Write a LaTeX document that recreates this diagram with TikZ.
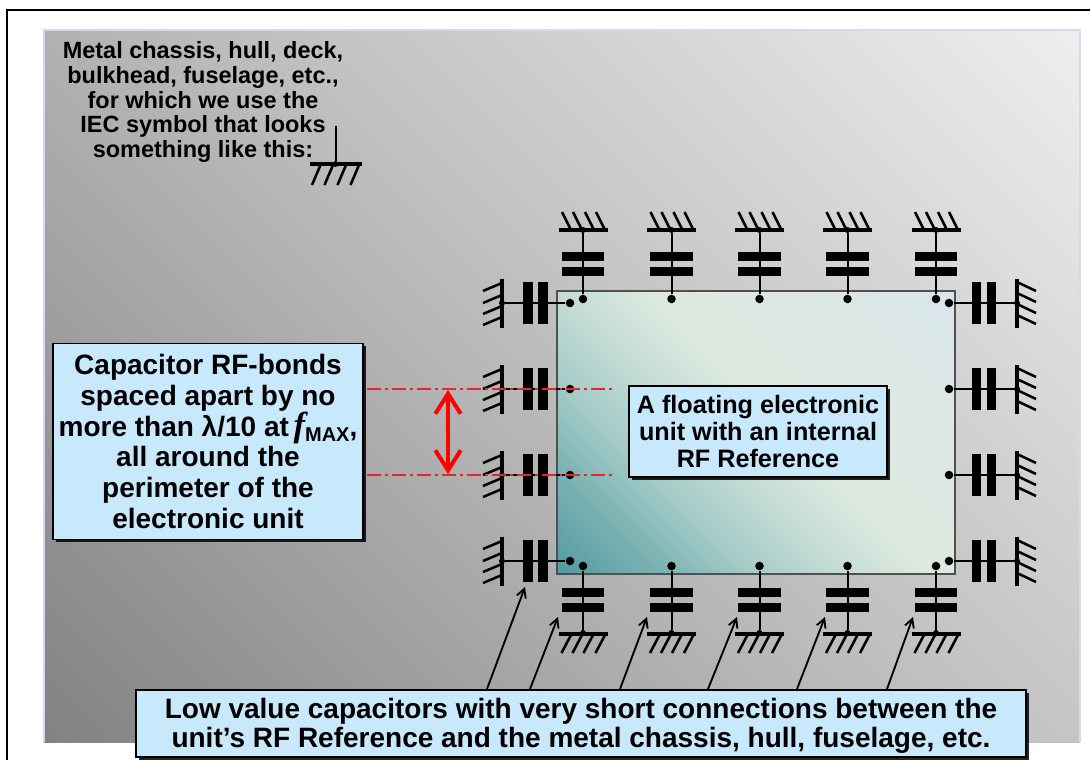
\documentclass[tikz,border=0pt]{standalone}
\usepackage{xcolor}
\usepackage{fontspec}
\usetikzlibrary{arrows.meta, shadows}
\setmainfont{Liberation Sans}
\newfontfamily\fserif{Liberation Serif}
\definecolor{boxblue}{HTML}{C8E8FB}
\definecolor{panelrim}{HTML}{D9D6EE}
\definecolor{bondred}{HTML}{E8252B}
\definecolor{unitrim}{HTML}{505050}
\definecolor{backa}{HTML}{828282}
\definecolor{backb}{HTML}{BCBCBC}
\definecolor{backc}{HTML}{EEEEF0}
\definecolor{unita}{HTML}{549AA0}
\definecolor{unitb}{HTML}{79B1B2}
\definecolor{unitc}{HTML}{A8CDC8}
\definecolor{unitd}{HTML}{C4DCD5}
\definecolor{unite}{HTML}{DDE9DF}
\definecolor{unitf}{HTML}{DDE8E4}
\definecolor{unitg}{HTML}{D9E6EA}
\pgfdeclarehorizontalshading{chassisshade}{100bp}{color(0bp)=(backa); color(14.6bp)=(backa);
  color(50bp)=(backb); color(85.4bp)=(backc); color(100bp)=(backc)}
\pgfdeclarehorizontalshading{unitshade}{100bp}{color(0bp)=(unita); color(14.6bp)=(unita);
  color(25.2bp)=(unitb); color(35.8bp)=(unitc); color(44.3bp)=(unitd); color(53.5bp)=(unite);
  color(67.7bp)=(unitf); color(85.4bp)=(unitg); color(100bp)=(unitg)}
\tikzset{
  wire/.style={line width=1.5pt},
  earth/.style={line width=2.8pt},
  hatch/.style={line width=1.9pt},
  dotnode/.style={circle, fill=black, inner sep=0pt, minimum size=6.4pt},
  earthdot/.style={circle, fill=black, inner sep=0pt, minimum size=4.5pt},
  platewide/.style={fill=black, inner sep=0pt, minimum width=32.2pt, minimum height=6.8pt},
  platetall/.style={fill=black, inner sep=0pt, minimum width=6.8pt, minimum height=31.5pt},
  notebox/.style={draw=black, line width=1.3pt, fill=boxblue, inner sep=0pt, align=center,
    font=\bfseries, drop shadow={shadow xshift=2.2pt, shadow yshift=-2.2pt, fill=black, opacity=0.85}},
  bondline/.style={bondred, line width=1.2pt, dash pattern=on 10.5pt off 3pt on 2.2pt off 3pt},
}
\begin{document}
\begin{tikzpicture}[x=0.75pt, y=-0.75pt, >={Straight Barb[length=6.5pt, width=7pt]}]
  \useasboundingbox (0,0) rectangle (1090,760);
  \fill[white] (0,0) rectangle (1090,760);

  % Chassis
  \shade[shading=chassisshade, shading angle=45] (44,30) rectangle (1080,742);
  \draw[panelrim, line width=0.8pt] (44,742) -- (44,30) -- (1080,30) -- (1080,742);
  \draw[line width=1.5pt] (7,760) -- (7,10) -- (1090,10);

  % Electronic unit
  \shade[shading=unitshade, shading angle=45] (557,291) rectangle (955,574);
  \draw[unitrim, line width=1pt] (557,291) rectangle (955,574);

  % Symbol legend
  \node[font=\bfseries\fontsize{17.6}{18.4}\selectfont, align=center] (legend) at (203,102)
    {Metal chassis, hull, deck,\\ bulkhead, fuselage, etc.,\\ for which we use the\\
     IEC symbol that looks\\ something like this:};
  \coordinate (legendtop) at (335.5,126);
  \node[earthdot] (legendearth) at (335.5,164) {};
  \draw[wire] (legendtop) -- (legendearth);
  \draw[earth] (310,164) -- (362,164);
  \foreach \h in {320.5,333,346,359} {
    \draw[hatch] (\h,165) -- ++(-8.5,20);
  }

  % Top row
  \foreach \i/\x in {1/583,2/671.5,3/759.5,4/847.5,5/936} {
    \node[dotnode] (topdot\i) at (\x,299) {};
    \node[platewide] (topa\i) at (\x,271.5) {};
    \node[platewide] (topb\i) at (\x,256.5) {};
    \node[earthdot] (topearth\i) at (\x,230) {};
    \draw[wire] (topdot\i) -- (topearth\i);
    \draw[earth] (\x-24.5,230) -- (\x+24.5,230);
    \foreach \h in {-21,-10,2,13} {
      \draw[hatch] (\x+\h,212) -- ++(9,18);
    }
  }

  % Bottom row
  \foreach \i/\x in {1/583,2/671.5,3/759.5,4/847.5,5/936} {
    \node[dotnode] (botdot\i) at (\x,566) {};
    \node[platewide] (bota\i) at (\x,592.5) {};
    \node[platewide] (botb\i) at (\x,607.5) {};
    \node[earthdot] (botearth\i) at (\x,633) {};
    \draw[wire] (botdot\i) -- (botearth\i);
    \draw[earth] (\x-24.5,634) -- (\x+24.5,634);
    \foreach \h in {-12,-1,10,22} {
      \draw[hatch] (\x+\h,635) -- ++(-9.5,18);
    }
  }

  % Left and right columns
  \foreach \i/\y in {1/303,2/389,3/475,4/561} {
    \node[dotnode] (leftdot\i) at (570,\y) {};
    \node[platetall] (lefta\i) at (543,\y) {};
    \node[platetall] (leftb\i) at (528,\y) {};
    \node[earthdot] (leftearth\i) at (502,\y) {};
    \draw[wire] (leftdot\i) -- (leftearth\i);
    \draw[earth] (502,\y-24.5) -- (502,\y+24.5);
    \foreach \h in {-20,-8,3,14} {
      \draw[hatch] (502,\y+\h) -- ++(-19,8);
    }
    \node[dotnode] (rightdot\i) at (949,\y) {};
    \node[platetall] (righta\i) at (976.5,\y) {};
    \node[platetall] (rightb\i) at (991.5,\y) {};
    \node[earthdot] (rightearth\i) at (1017,\y) {};
    \draw[wire] (rightdot\i) -- (rightearth\i);
    \draw[earth] (1017,\y-24.5) -- (1017,\y+24.5);
    \foreach \h in {-21,-10,1,12} {
      \draw[hatch] (1017,\y+\h) -- ++(19,9);
    }
  }

  % Notes
  \node[notebox, minimum width=233pt, minimum height=147pt, font=\bfseries\fontsize{21}{23.1}\selectfont]
    (spacingnote) at (208,441.5)
    {Capacitor RF-bonds\\ spaced apart by no\\
     more than λ/10 at\,{\fserif\itshape\fontsize{26}{24}\selectfont f}\raisebox{-0.35ex}{\fontsize{15}{14}\selectfont MAX},\\
     all around the\\ perimeter of the\\ electronic unit};
  \node[notebox, minimum width=193.5pt, minimum height=68pt, font=\bfseries\fontsize{18.9}{20}\selectfont]
    (unitnote) at (758,431.5)
    {A floating electronic\\ unit with an internal\\ RF Reference};
  \node[notebox, minimum width=667pt, minimum height=50pt, font=\bfseries\fontsize{21}{21.8}\selectfont]
    (capnote) at (581,723.5)
    {\rule{0pt}{18pt}Low value capacitors with very short connections between the\\
     unit’s RF Reference and the metal chassis, hull, fuselage, etc.};

  % Spacing marks
  \coordinate (marka) at (367,389);
  \coordinate (markb) at (615,389);
  \coordinate (markc) at (367,475);
  \coordinate (markd) at (615,475);
  \coordinate (spana) at (448,390);
  \coordinate (spanb) at (448,474);
  \draw[bondline] (marka) -- (markb);
  \draw[bondline] (markc) -- (markd);
  \draw[{Straight Barb[length=15pt, width=19pt]}-{Straight Barb[length=15pt, width=19pt]},
    red, line width=3pt] (spana) -- (spanb);

  % Pointers
  \foreach \i/\a/\b/\c/\d in {1/487/689/525/587, 2/530/689/558/617, 3/620/689/647/617,
                               4/708/689/737/617, 5/797/689/825/617, 6/887/689/913/617} {
    \coordinate (ptrfoot\i) at (\a,\b);
    \coordinate (ptrtip\i) at (\c,\d);
    \draw[->, line width=1.4pt] (ptrfoot\i) -- (ptrtip\i);
  }
\end{tikzpicture}
\end{document}
